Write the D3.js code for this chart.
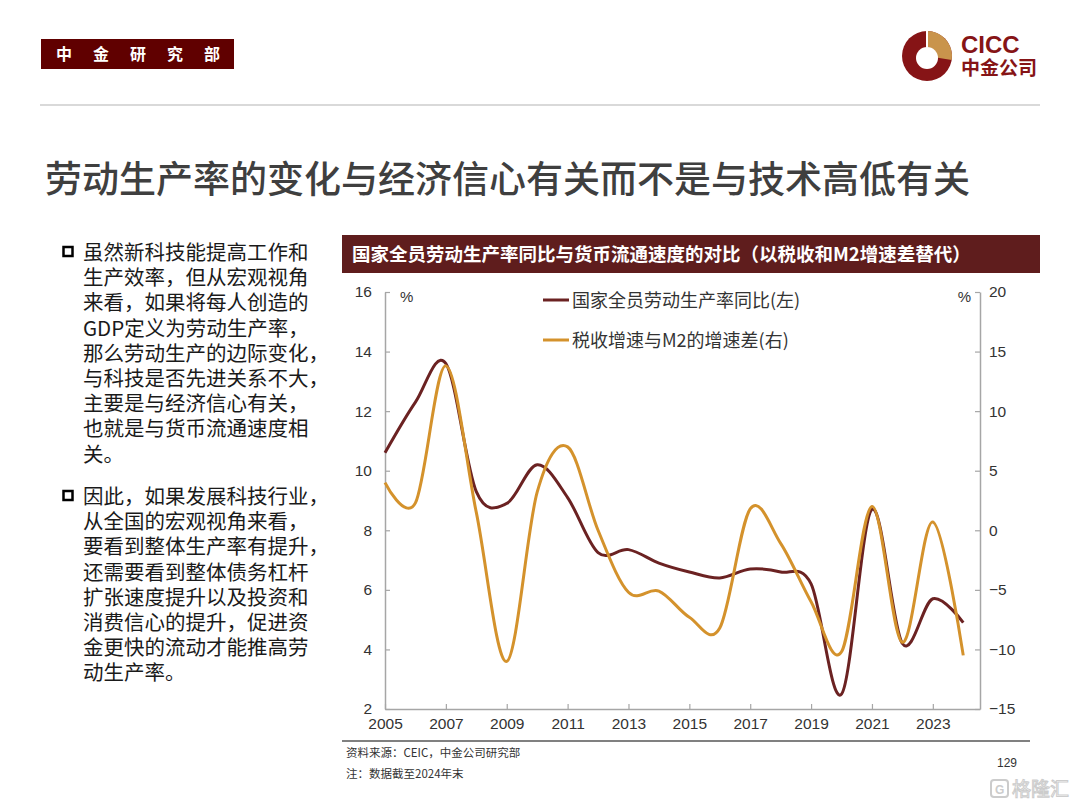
<!DOCTYPE html>
<html>
<head>
<meta charset="utf-8">
<script src="https://cdn.jsdelivr.net/npm/d3@7/dist/d3.min.js"></script>
<style>
  html, body { margin: 0; padding: 0; background: #ffffff; }
  svg { display: block; }
</style>
</head>
<body>
<svg id="chart" width="1080" height="810"></svg>
<script>
// ---------------- data ----------------
const years = [2005, 2006, 2007, 2008, 2009, 2010, 2011, 2012, 2013, 2014,
               2015, 2016, 2017, 2018, 2019, 2020, 2021, 2022, 2023, 2024];
// 国家全员劳动生产率同比 (%), left axis
const productivity = [10.6, 12.3, 13.6, 9.3, 8.9, 10.2, 9.1, 7.25, 7.35, 6.9,
                      6.6, 6.4, 6.7, 6.6, 6.2, 2.5, 8.7, 4.2, 5.7, 4.9];
// 税收增速与M2的增速差 (%), right axis
const taxM2Gap = [4.0, 2.3, 13.8, 1.5, -11.0, 3.2, 7.0, 0.0, -5.2, -5.1,
                  -7.3, -8.2, 1.8, -1.1, -6.0, -10.2, 2.0, -9.4, 0.7, -10.5];
const xTicks = [2005, 2007, 2009, 2011, 2013, 2015, 2017, 2019, 2021, 2023];
const leftTicks = [2, 4, 6, 8, 10, 12, 14, 16];
const rightTicks = [-15, -10, -5, 0, 5, 10, 15, 20];
const seriesNames = ["国家全员劳动生产率同比(左)", "税收增速与M2的增速差(右)"];
const chartTitle = "国家全员劳动生产率同比与货币流通速度的对比（以税收和M2增速差替代）";
const pageTitle = "劳动生产率的变化与经济信心有关而不是与技术高低有关";
const bullet1 = ["虽然新科技能提高工作和", "生产效率，但从宏观视角", "来看，如果将每人创造的",
                 "GDP定义为劳动生产率，", "那么劳动生产的边际变化，", "与科技是否先进关系不大，",
                 "主要是与经济信心有关，", "也就是与货币流通速度相", "关。"];
const bullet2 = ["因此，如果发展科技行业，", "从全国的宏观视角来看，", "要看到整体生产率有提升，",
                 "还需要看到整体债务杠杆", "扩张速度提升以及投资和", "消费信心的提升，促进资",
                 "金更快的流动才能推高劳", "动生产率。"];
const headerChars = ["中", "金", "研", "究", "部"];
const sourceNote = "资料来源：CEIC，中金公司研究部";
const dateNote = "注：数据截至2024年末";
const pageNum = "129";

// ---------------- styles ----------------
const CJK = "'Noto Sans CJK SC', 'Noto Sans', sans-serif";
const LAT = "'Liberation Sans', Arial, 'Noto Sans CJK SC', sans-serif";
const BROWN = "#6b2222";
const ORANGE = "#d4922c";

const svg = d3.select("#chart");

// ---------------- header ----------------
svg.append("rect").attr("x", 41).attr("y", 39).attr("width", 193).attr("height", 30).attr("fill", "#600000");
svg.selectAll("text.hdr").data(headerChars).enter().append("text")
  .attr("class", "hdr")
  .attr("x", (d, i) => 64 + i * 37).attr("y", 60)
  .attr("text-anchor", "middle")
  .attr("font-family", CJK).attr("font-size", 16).attr("font-weight", "bold")
  .attr("fill", "#ffffff").text(d => d);

// logo
const logo = svg.append("g").attr("transform", "translate(927,56)");
logo.append("circle").attr("r", 25).attr("fill", "#861416");
logo.append("path")
  .attr("d", d3.arc().innerRadius(0).outerRadius(25).startAngle(0).endAngle(Math.PI * 0.55)())
  .attr("fill", "#c9944c");
logo.append("circle").attr("cx", 0).attr("cy", 2).attr("r", 11).attr("fill", "#ffffff");
logo.append("rect").attr("x", -1).attr("y", -26).attr("width", 2).attr("height", 18).attr("fill", "#ffffff");
svg.append("text").attr("x", 961).attr("y", 53)
  .attr("font-family", LAT).attr("font-size", 24).attr("font-weight", "bold")
  .attr("fill", "#861416").text("CICC");
svg.append("text").attr("x", 961).attr("y", 75)
  .attr("font-family", CJK).attr("font-size", 19).attr("font-weight", "bold")
  .attr("fill", "#861416").text("中金公司");

// separator
svg.append("line").attr("x1", 40).attr("x2", 1040).attr("y1", 105).attr("y2", 105)
  .attr("stroke", "#d9d9d9").attr("stroke-width", 2);

// page title
svg.append("text").attr("x", 45).attr("y", 193)
  .attr("font-family", CJK).attr("font-size", 37).attr("font-weight", 500)
  .attr("fill", "#3f3f3f").text(pageTitle);

// bullets
function drawBullet(lines, y0) {
  svg.append("rect").attr("x", 63.5).attr("y", y0 - 6).attr("width", 9).attr("height", 9)
    .attr("fill", "none").attr("stroke", "#000").attr("stroke-width", 2.5);
  svg.append("g").selectAll("text").data(lines).enter().append("text")
    .attr("x", 83).attr("y", (d, i) => y0 + 7 + i * 25.2)
    .attr("font-family", CJK).attr("font-size", 20.5)
    .attr("fill", "#1a1a1a").text(d => d);
}
drawBullet(bullet1, 253);
drawBullet(bullet2, 497);

// chart title bar
svg.append("rect").attr("x", 342).attr("y", 235).attr("width", 698).attr("height", 38).attr("fill", "#5f1d1d");
svg.append("text").attr("x", 352).attr("y", 261)
  .attr("font-family", CJK).attr("font-size", 18.5).attr("font-weight", "bold")
  .attr("fill", "#ffffff").text(chartTitle);

// ---------------- chart ----------------
const x = d3.scaleLinear().domain([2005, 2024.55]).range([385, 980]);
const yL = d3.scaleLinear().domain([2, 16]).range([709, 292]);
const yR = d3.scaleLinear().domain([-15, 20]).range([709, 292]);

const axisColor = "#a6a6a6";
function styleAxis(g) {
  g.selectAll("path.domain").attr("stroke", axisColor).attr("stroke-width", 1.5);
  g.selectAll(".tick line").attr("stroke", axisColor).attr("stroke-width", 1.2);
  g.selectAll(".tick text").attr("fill", "#333").attr("font-family", LAT).attr("font-size", 15.5);
}

const gL = svg.append("g").attr("transform", "translate(385,0)")
  .call(d3.axisLeft(yL).tickValues(leftTicks).tickFormat(d3.format("d")).tickSize(-5).tickSizeOuter(0).tickPadding(13));
styleAxis(gL);
const gR = svg.append("g").attr("transform", "translate(980,0)")
  .call(d3.axisRight(yR).tickValues(rightTicks).tickFormat(d3.format("d")).tickSize(-5).tickSizeOuter(0).tickPadding(9));
styleAxis(gR);
const gB = svg.append("g").attr("transform", "translate(0,709)")
  .call(d3.axisBottom(x).tickValues(xTicks).tickFormat(d3.format("d")).tickSize(-5).tickSizeOuter(0).tickPadding(9));
styleAxis(gB);

svg.append("text").attr("x", 400).attr("y", 302).attr("font-family", LAT).attr("font-size", 15)
  .attr("fill", "#333").text("%");
svg.append("text").attr("x", 971).attr("y", 302).attr("text-anchor", "end").attr("font-family", LAT).attr("font-size", 15)
  .attr("fill", "#333").text("%");

const curve = d3.curveCardinal.tension(0);
const prodData = years.map((y, i) => ({ year: y, v: productivity[i] }));
const gapData = years.map((y, i) => ({ year: y, v: taxM2Gap[i] }));

svg.append("path").datum(prodData)
  .attr("d", d3.line().x(d => x(d.year)).y(d => yL(d.v)).curve(curve))
  .attr("fill", "none").attr("stroke", BROWN).attr("stroke-width", 3);
svg.append("path").datum(gapData)
  .attr("d", d3.line().x(d => x(d.year)).y(d => yR(d.v)).curve(curve))
  .attr("fill", "none").attr("stroke", ORANGE).attr("stroke-width", 3);

// legend
const legend = svg.append("g");
[[BROWN, 300], [ORANGE, 340]].forEach((c, i) => {
  legend.append("line").attr("x1", 543).attr("x2", 569).attr("y1", c[1]).attr("y2", c[1])
    .attr("stroke", c[0]).attr("stroke-width", 3);
  legend.append("text").attr("x", 572).attr("y", c[1] + 6.5)
    .attr("font-family", CJK).attr("font-size", 18).attr("fill", "#333").text(seriesNames[i]);
});

// ---------------- footer ----------------
svg.append("line").attr("x1", 342).attr("x2", 1030).attr("y1", 741).attr("y2", 741)
  .attr("stroke", "#808080").attr("stroke-width", 2);
svg.append("text").attr("x", 346).attr("y", 757).attr("font-family", CJK).attr("font-size", 11.5)
  .attr("fill", "#333").text(sourceNote);
svg.append("text").attr("x", 346).attr("y", 778).attr("font-family", CJK).attr("font-size", 11.5)
  .attr("fill", "#333").text(dateNote);
svg.append("text").attr("x", 1017).attr("y", 767).attr("text-anchor", "end").attr("font-family", LAT)
  .attr("font-size", 12).attr("fill", "#333").text(pageNum);

// watermark
const wm = svg.append("g").attr("opacity", 0.5);
wm.append("rect").attr("x", 991).attr("y", 780).attr("width", 17).attr("height", 17).attr("rx", 3)
  .attr("fill", "none").attr("stroke", "#9a9a9a").attr("stroke-width", 2);
wm.append("text").attr("x", 995).attr("y", 794).attr("font-family", LAT).attr("font-size", 12)
  .attr("font-weight", "bold").attr("fill", "#9a9a9a").text("G");
wm.append("text").attr("x", 1012).attr("y", 796).attr("font-family", CJK).attr("font-size", 19)
  .attr("fill", "#ffffff").attr("stroke", "#9a9a9a").attr("stroke-width", 1).text("格隆汇");
</script>
</body>
</html>
